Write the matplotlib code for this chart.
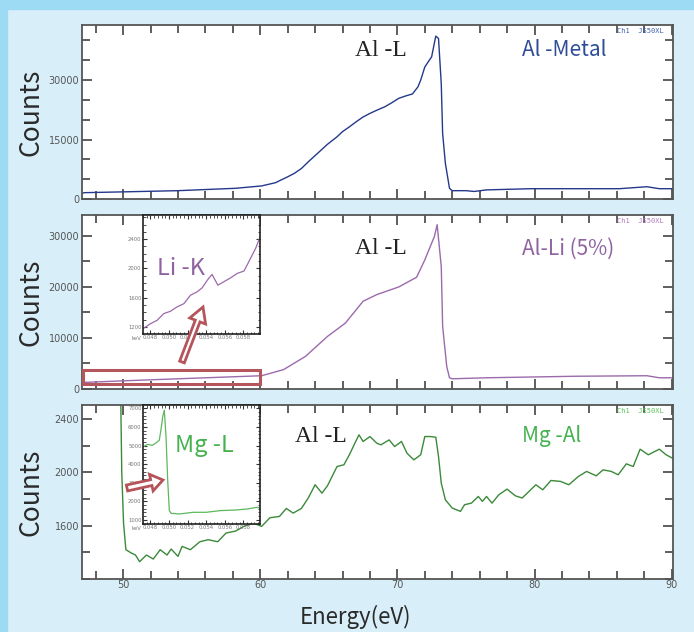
import matplotlib
matplotlib.use("Agg")
import matplotlib.pyplot as plt
import numpy as np
from matplotlib.patches import FancyArrow, Rectangle
from matplotlib.ticker import MultipleLocator, FixedLocator
from matplotlib.transforms import IdentityTransform

# ---- data (energy in eV, counts) ----
metal_x = [47.0, 47.2, 50.0, 54.0, 58.2, 60.1, 61.1, 62.0, 62.5, 63.0, 63.6, 64.3, 64.9, 65.6,
           66.0, 66.5, 67.0, 67.5, 68.0, 68.5, 69.1, 69.6, 70.1, 70.6, 71.1, 71.5, 71.7, 72.0,
           72.5, 72.8, 73.0, 73.2, 73.3, 73.5, 73.8, 74.0, 75.0, 75.6, 76.5, 79.8, 86.2, 88.2,
           89.1, 90.2]
metal_y = [1500, 1600, 1800, 2100, 2700, 3300, 4100, 5600, 6500, 7700, 9700, 11900, 13800, 15700,
           17000, 18200, 19500, 20700, 21600, 22400, 23300, 24300, 25400, 26000, 26500, 28300, 30000, 33300,
           35900, 41100, 40500, 29100, 16500, 9000, 2700, 2100, 2100, 1900, 2300, 2600, 2600, 3100,
           2600, 2600]

li_x = [47.0, 47.2, 50.0, 54.0, 60.1, 61.7, 63.3, 64.9, 66.2, 67.5, 68.5, 70.1, 71.4, 72.0,
        72.7, 72.9, 73.2, 73.3, 73.6, 73.8, 74.0, 76.5, 83.0, 88.2, 89.1, 90.2]
li_y = [1200, 1300, 1600, 2000, 2600, 3800, 6400, 10300, 12900, 17200, 18500, 20000, 21900, 25300,
        29900, 32200, 24000, 12300, 4400, 2200, 2000, 2200, 2500, 2600, 2200, 2200]

mg_x = [47.0, 48.0, 48.6, 49.0, 49.3, 49.45, 49.6, 49.75, 49.9, 50.03, 50.2, 50.6, 50.9, 51.2,
        51.7, 52.2, 52.7, 53.2, 53.5, 54.0, 54.3, 54.9, 55.6, 56.2, 56.9, 57.5, 58.2, 58.8,
        59.5, 60.1, 60.7, 61.4, 61.9, 62.4, 63.0, 63.5, 64.0, 64.5, 64.9, 65.6, 66.1, 66.5,
        66.9, 67.2, 67.5, 68.0, 68.5, 68.8, 69.4, 69.8, 70.3, 70.7, 71.2, 71.7, 72.0, 72.4,
        72.8, 73.0, 73.2, 73.5, 74.0, 74.6, 74.9, 75.4, 75.9, 76.2, 76.5, 76.9, 77.4, 78.0,
        78.6, 79.1, 79.6, 80.1, 80.6, 81.2, 81.9, 82.5, 83.2, 83.8, 84.5, 85.0, 85.6, 86.1,
        86.7, 87.2, 87.7, 88.3, 89.1, 89.6, 90.2]
mg_y = [4900, 5000, 5300, 5200, 6600, 6900, 5500, 3100, 2000, 1620, 1420, 1395, 1380, 1330,
        1380, 1350, 1420, 1380, 1425, 1370, 1445, 1420, 1480, 1495, 1480, 1545, 1560, 1595,
        1620, 1595, 1660, 1670, 1730, 1695, 1730, 1808, 1908, 1845, 1900, 2045, 2058, 2133,
        2220, 2283, 2233, 2270, 2220, 2208, 2245, 2195, 2233, 2145, 2095, 2133, 2270, 2270,
        2265, 2120, 1920, 1795, 1733, 1708, 1758, 1770, 1820, 1783, 1820, 1770, 1833, 1875,
        1825, 1808, 1858, 1908, 1870, 1940, 1933, 1908, 1970, 2008, 1975, 2020, 2008, 1983,
        2065, 2045, 2175, 2133, 2175, 2133, 2100]

# insets (energy in keV)
lik_f = [0.0, 0.063, 0.12, 0.177, 0.234, 0.29, 0.35, 0.406, 0.463, 0.506, 0.55, 0.59,
         0.64, 0.69, 0.75, 0.806, 0.863, 0.89, 0.934, 0.963, 0.991, 1.0]
lik_y = [1177, 1245, 1291, 1383, 1415, 1474, 1520, 1635, 1681, 1736, 1841, 1919,
         1772, 1818, 1873, 1933, 1965, 2047, 2185, 2276, 2391, 2430]
mgl_f = [0.0, 0.038, 0.081, 0.11, 0.139, 0.153, 0.168, 0.182, 0.197, 0.211, 0.225, 0.24,
         0.31, 0.43, 0.54, 0.66, 0.80, 0.89, 0.977, 1.0]
mgl_y = [4920, 5060, 5010, 5135, 5280, 5820, 6540, 6900, 5460, 3120, 1500, 1350,
         1315, 1405, 1405, 1495, 1530, 1585, 1675, 1620]
kev_lo, kev_hi = 0.0472, 0.0598
lik_x = [kev_lo + f * (kev_hi - kev_lo) for f in lik_f]
mgl_x = [kev_lo + f * (kev_hi - kev_lo) for f in mgl_f]

# ---- figure ----
fig = plt.figure(figsize=(6.94, 6.32), dpi=100, facecolor='#d8eff9')
fig.add_artist(Rectangle((0, 1 - 9 / 632), 1, 9 / 632, transform=fig.transFigure,
                         color='#9ddbf4', zorder=0))
fig.add_artist(Rectangle((0, 0), 7 / 694, 1, transform=fig.transFigure,
                         color='#9ddbf4', zorder=0))

L, W, H = 82 / 694, 591 / 694, 174 / 632
ax1 = fig.add_axes([L, 1 - 199 / 632, W, H])
ax2 = fig.add_axes([L, 1 - 389 / 632, W, H])
ax3 = fig.add_axes([L, 1 - 579 / 632, W, H])

label_font = ['Noto Sans CJK JP', 'DejaVu Sans']


def style(ax, yticks, ymin, show_x):
    ax.set_xlim(47, 90.1)
    ax.xaxis.set_major_locator(MultipleLocator(10))
    ax.xaxis.set_minor_locator(MultipleLocator(2))
    ax.yaxis.set_major_locator(FixedLocator(yticks))
    ax.yaxis.set_minor_locator(MultipleLocator(ymin))
    ax.tick_params(which='both', direction='in', top=True, right=True,
                   colors='#333333', labelcolor='#555555', labelsize=7, pad=2)
    ax.tick_params(which='major', length=7, width=1.1)
    ax.tick_params(which='minor', length=6, width=1.1)
    if not show_x:
        ax.tick_params(axis='x', labelbottom=False)
    for s in ax.spines.values():
        s.set_color('#555555')
        s.set_linewidth(1.3)
    ax.set_ylabel('Counts', fontsize=19, family=label_font, color='#2a2a2a')
    ax.yaxis.set_label_coords(-0.063, 0.5)


ax1.plot(metal_x, metal_y, color='#24398b', lw=1.0)
ax1.set_ylim(0, 43900)
style(ax1, [0, 15000, 30000], 5000, False)

ax2.plot(li_x, li_y, color='#9b6aab', lw=1.0)
ax2.set_ylim(0, 34100)
style(ax2, [0, 10000, 20000, 30000], 5000, False)

ax3.plot(mg_x, mg_y, color='#3a8a3a', lw=1.0)
ax3.set_ylim(1200, 2507)
style(ax3, [1600, 2000, 2400], 200, True)
ax3.tick_params(axis='x', pad=1)

fig.text(355 / 694, 1 - 617 / 632, 'Energy(eV)', ha='center', va='center', fontsize=16,
         family=label_font, color='#2a2a2a')

# labels on the panels
serif = ['Liberation Serif', 'DejaVu Serif']
for ylab in [50, 248]:
    fig.text(381 / 694, 1 - ylab / 632, 'Al -L', ha='center', va='center', fontsize=17,
             family=serif, color='#222222')
fig.text(321 / 694, 1 - 436 / 632, 'Al -L', ha='center', va='center', fontsize=17,
         family=serif, color='#222222')
fig.text(522 / 694, 1 - 50 / 632, 'Al -Metal', ha='left', va='center', fontsize=15,
         family=label_font, color='#2f4c99')
fig.text(522 / 694, 1 - 249 / 632, 'Al-Li (5%)', ha='left', va='center', fontsize=15,
         family=label_font, color='#8f62a0')
fig.text(522 / 694, 1 - 436 / 632, 'Mg -Al', ha='left', va='center', fontsize=15,
         family=label_font, color='#45b24f')
for ax, c in [(ax1, '#3f5fb0'), (ax2, '#b07ac0'), (ax3, '#5cc05c')]:
    ax.text(0.985, 0.985, 'Ch1  JS50XL', transform=ax.transAxes, ha='right', va='top',
            fontsize=5, family='DejaVu Sans Mono', color=c)

# insets
IL, IW, IH = 143 / 694, 117 / 694, 119 / 632


def style_inset(ax, ymaj, ymin):
    ax.set_xlim(kev_lo, kev_hi)
    ax.xaxis.set_major_locator(MultipleLocator(0.002))
    ax.xaxis.set_minor_locator(MultipleLocator(0.0004))
    ax.yaxis.set_major_locator(MultipleLocator(ymaj))
    ax.yaxis.set_minor_locator(MultipleLocator(ymin))
    ax.xaxis.set_major_formatter(plt.FuncFormatter(lambda v, p: '%.3f' % v))
    ax.tick_params(which='both', direction='in', top=True, right=True,
                   colors='#333333', labelcolor='#777777', labelsize=3.8, pad=1)
    ax.tick_params(which='major', length=3, width=0.8)
    ax.tick_params(which='minor', length=1.8, width=0.6)
    for s in ax.spines.values():
        s.set_color('#222222')
        s.set_linewidth(1.2)
    ax.text(-0.06, -0.035, 'keV', transform=ax.transAxes, fontsize=3.8,
            color='#777777', ha='center', va='center')


in2 = fig.add_axes([IL, 1 - 334 / 632, IW, IH])
in2.plot(lik_x, lik_y, color='#9b6aab', lw=0.9)
in2.set_ylim(1105, 2730)
style_inset(in2, 400, 100)
in2.text(0.12, 0.55, 'Li -K', transform=in2.transAxes, fontsize=17, family=label_font,
         color='#8f62a0', va='center')

in3 = fig.add_axes([IL, 1 - 524 / 632, IW, IH])
in3.plot(mgl_x, mgl_y, color='#5cb85c', lw=0.9)
in3.set_ylim(775, 7180)
style_inset(in3, 1000, 200)
in3.text(0.27, 0.66, 'Mg -L', transform=in3.transAxes, fontsize=17, family=label_font,
         color='#45b24f', va='center')

# highlight box and hollow arrows (pixel coordinates, origin bottom-left)
ax2.add_patch(Rectangle((47.05, 1000), 60.0 - 47.05, 2800, fill=False, edgecolor='#b4565c',
                        lw=2.2, clip_on=False, zorder=5))
red = '#b5545a'
fig.add_artist(FancyArrow(182, 632 - 362, 21, 55, width=5, head_width=17, head_length=15,
                          length_includes_head=True, transform=IdentityTransform(),
                          facecolor='white', edgecolor=red, lw=2))
fig.add_artist(FancyArrow(127, 632 - 488, 36, 8, width=6, head_width=17, head_length=12,
                          length_includes_head=True, transform=IdentityTransform(),
                          facecolor='white', edgecolor=red, lw=2))

fig.savefig('out.png', dpi=100, facecolor=fig.get_facecolor())
